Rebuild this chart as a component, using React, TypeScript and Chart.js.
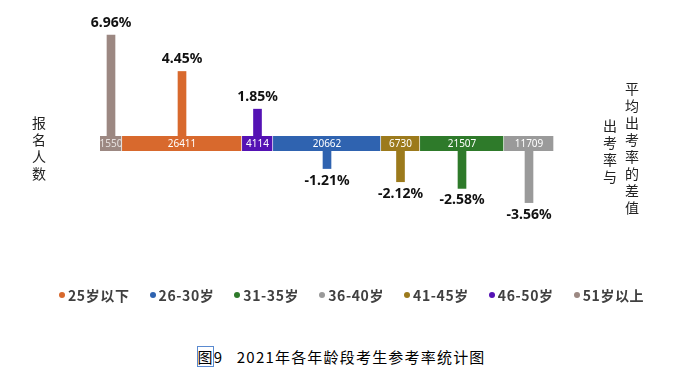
import React, { useEffect, useRef } from "react";
import { Chart, registerables } from "chart.js";
Chart.register(...registerables);

// Age groups in the order they appear along the band
const groups = ["51岁以上", "25岁以下", "46-50岁", "26-30岁", "41-45岁", "31-35岁", "36-40岁"];
// Number of applicants per group (labels inside the band)
const applicants = [1550, 26411, 4114, 20662, 6730, 21507, 11709];
// Relative width of each band segment as drawn in the picture
const bandShare = [22, 120, 31, 108, 39, 84, 50];
// Difference between group attendance rate and average attendance rate (%)
const rateDiff = [6.96, 4.45, 1.85, -1.21, -2.12, -2.58, -3.56];
const groupColors = ["#9c8882", "#d8692d", "#5412b4", "#2f63b0", "#9c7a1c", "#2e7a2a", "#9a9a9a"];
const legendOrder = ["25岁以下", "26-30岁", "31-35岁", "36-40岁", "41-45岁", "46-50岁", "51岁以上"];

const TOTAL = bandShare.reduce((a, b) => a + b, 0);
const centers: number[] = [];
{
  let acc = 0;
  for (const w of bandShare) {
    centers.push(acc + w / 2);
    acc += w;
  }
}
const GAP = 0.518; // half of band thickness in % units
const Y_MAX = 9.9;

const PAD = { left: 100, right: 129, top: 0, bottom: 0 };

function BandChart() {
  const ref = useRef<HTMLCanvasElement>(null);
  useEffect(() => {
    const labelPlugin = {
      id: "bandLabels",
      afterDatasetsDraw(chart: any) {
        const ctx = chart.ctx;
        ctx.save();
        ctx.font = "10px 'Noto Sans', sans-serif";
        ctx.textAlign = "center";
        ctx.textBaseline = "middle";
        chart.data.datasets.forEach((ds: any, i: number) => {
          const el = chart.getDatasetMeta(i).data[0] as any;
          ctx.fillStyle = i === 0 ? "#e6e0de" : "#ffffff";
          ctx.fillText(String(applicants[i]), (el.x + el.base) / 2, el.y + 0.5);
        });
        ctx.restore();
      },
    };
    const chart = new Chart(ref.current!, {
      type: "bar",
      data: {
        labels: [""],
        datasets: groups.map((g, i) => ({
          label: g,
          data: [bandShare[i]],
          backgroundColor: groupColors[i],
          borderColor: "rgba(255,255,255,0.45)",
          borderWidth: { left: 0, right: 1, top: 0, bottom: 0 },
          borderSkipped: false,
          barPercentage: 1,
          categoryPercentage: 1,
          stack: "s",
        })),
      },
      options: {
        indexAxis: "y",
        responsive: false,
        animation: false,
        layout: { padding: PAD },
        scales: {
          x: { stacked: true, min: 0, max: TOTAL, display: false },
          y: { stacked: true, display: false },
        },
        plugins: { legend: { display: false }, tooltip: { enabled: false } },
      },
      plugins: [labelPlugin],
    } as any);
    return () => chart.destroy();
  }, []);
  return (
    <canvas
      ref={ref}
      width={683}
      height={15}
      style={{ position: "absolute", left: 0, top: 136, width: 683, height: 15 }}
    />
  );
}

function DiffChart() {
  const ref = useRef<HTMLCanvasElement>(null);
  useEffect(() => {
    const labelPlugin = {
      id: "diffLabels",
      afterDatasetsDraw(chart: any) {
        const ctx = chart.ctx;
        ctx.save();
        ctx.font = "bold 14px 'Noto Sans', sans-serif";
        ctx.textAlign = "center";
        ctx.textBaseline = "middle";
        ctx.fillStyle = "#111111";
        const meta = chart.getDatasetMeta(0);
        meta.data.forEach((el: any, i: number) => {
          const v = rateDiff[i];
          const txt = v.toFixed(2) + "%";
          if (v >= 0) ctx.fillText(txt, el.x, el.y - 12);
          else ctx.fillText(txt, el.x, el.y + 12);
        });
        ctx.restore();
      },
    };
    const chart = new Chart(ref.current!, {
      type: "bar",
      data: {
        datasets: [
          {
            label: "diff",
            data: rateDiff.map((v, i) => ({
              x: centers[i],
              y: v >= 0 ? [GAP, GAP + v] : [-GAP, -GAP + v],
            })),
            backgroundColor: groupColors,
            barThickness: 8,
          },
        ],
      },
      options: {
        responsive: false,
        animation: false,
        layout: { padding: PAD },
        scales: {
          x: { type: "linear", min: 0, max: TOTAL, display: false, offset: false },
          y: { min: -Y_MAX, max: Y_MAX, display: false },
        },
        plugins: { legend: { display: false }, tooltip: { enabled: false } },
      },
      plugins: [labelPlugin],
    } as any);
    return () => chart.destroy();
  }, []);
  return (
    <canvas
      ref={ref}
      width={683}
      height={287}
      style={{ position: "absolute", left: 0, top: 0, width: 683, height: 287 }}
    />
  );
}

function VText({ text, x, y }: { text: string; x: number; y: number }) {
  return (
    <div
      style={{
        position: "absolute",
        left: x - 8,
        top: y,
        width: 16,
        textAlign: "center",
        fontFamily: "'Noto Sans CJK SC', sans-serif",
        fontSize: 14,
        lineHeight: "17px",
        color: "#222",
      }}
    >
      {Array.from(text).map((c, i) => (
        <div key={i}>{c}</div>
      ))}
    </div>
  );
}

export default function App() {
  return (
    <div
      style={{
        position: "fixed",
        left: 0,
        top: 0,
        width: 683,
        height: 378,
        background: "#fff",
        overflow: "hidden",
      }}
    >
      <DiffChart />
      <BandChart />
      <VText text="报名人数" x={39} y={114} />
      <VText text="出考率与" x={610} y={117} />
      <VText text="平均出考率的差值" x={632} y={80} />
      <div
        style={{
          position: "absolute",
          left: 59,
          top: 285,
          display: "flex",
          alignItems: "center",
          gap: 20,
          fontFamily: "'Noto Sans CJK SC', sans-serif",
          fontWeight: 700,
          fontSize: 14,
          letterSpacing: 0.6,
          color: "#404040",
          whiteSpace: "nowrap",
        }}
      >
        {legendOrder.map((g) => {
          const i = groups.indexOf(g);
          return (
            <div key={g} style={{ display: "flex", alignItems: "center" }}>
              <span
                style={{
                  display: "inline-block",
                  width: 6,
                  height: 6,
                  borderRadius: 3,
                  background: groupColors[i],
                  marginRight: 3,
                }}
              />
              <span>{g}</span>
            </div>
          );
        })}
      </div>
      <div
        style={{
          position: "absolute",
          left: 0,
          top: 346,
          width: 683,
          textAlign: "center",
          fontFamily: "'Noto Sans CJK SC', sans-serif",
          fontSize: 15,
          letterSpacing: 1.2,
          color: "#000",
          whiteSpace: "pre",
        }}
      >
        <span style={{ outline: "1px solid #5a8ad0", outlineOffset: -1 }}>图</span>
        {"9   2021年各年龄段考生参考率统计图"}
      </div>
    </div>
  );
}
